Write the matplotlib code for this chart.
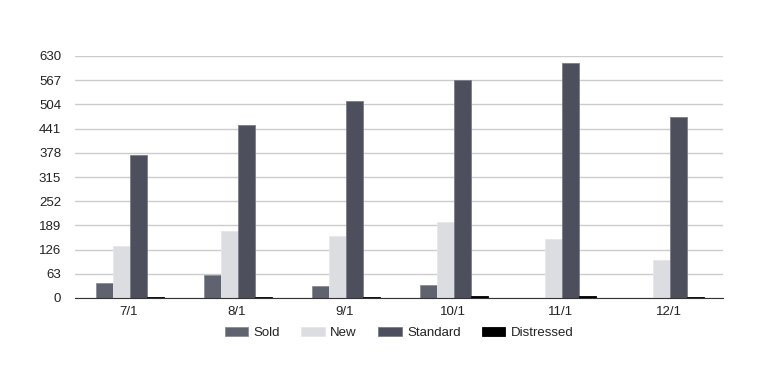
import numpy as np
import matplotlib.pyplot as plt

plt.rcParams['font.family'] = ['Liberation Sans', 'DejaVu Sans']

# chart data
months = ['7/1', '8/1', '9/1', '10/1', '11/1', '12/1']
sold = [40, 59, 30, 33, 0, 0]
new = [135, 175, 162, 197, 154, 100]
standard = [372, 450, 513, 567, 612, 470]
distressed = [3, 3, 2, 5, 5, 2]
yticks = [0, 63, 126, 189, 252, 315, 378, 441, 504, 567, 630]

series = [('Sold', sold, '#5f6370', '#8a8d99'),
          ('New', new, '#dcdde0', '#e6e7ea'),
          ('Standard', standard, '#4d505c', '#7a7d88'),
          ('Distressed', distressed, '#000000', '#000000')]

fig = plt.figure(figsize=(7.73, 3.71), dpi=100)
ax = fig.add_axes([75 / 773, 73 / 371, 648 / 773, 242 / 371])

x = np.arange(len(months))
w = 0.157
for i, (name, vals, col, edge) in enumerate(series):
    ax.bar(x + (i - 1.5) * w + 0.01, vals, w, color=col, edgecolor=edge,
           linewidth=0.6, label=name, zorder=3)

ax.set_xlim(-0.5, len(months) - 0.5)
ax.set_ylim(0, 630)
ax.set_yticks(yticks)
ax.set_xticks(x)
ax.set_xticklabels(months)
ax.tick_params(axis='both', length=0, labelsize=9.5, colors='#222222')
ax.tick_params(axis='y', pad=10)
ax.tick_params(axis='x', pad=6)
ax.grid(axis='y', color='#cccccc', linewidth=1, zorder=0)
for s in ['top', 'right', 'left']:
    ax.spines[s].set_visible(False)
ax.spines['bottom'].set_color('#333333')
ax.spines['bottom'].set_zorder(4)

leg = ax.legend(loc='center', bbox_to_anchor=(0.5, -35 / 242), ncol=4,
                frameon=False, fontsize=9.5, handlelength=1.8, handleheight=0.75,
                columnspacing=1.6, handletextpad=0.4, borderpad=0)
for t in leg.get_texts():
    t.set_color('#222222')

fig.savefig('out.png', dpi=100)
